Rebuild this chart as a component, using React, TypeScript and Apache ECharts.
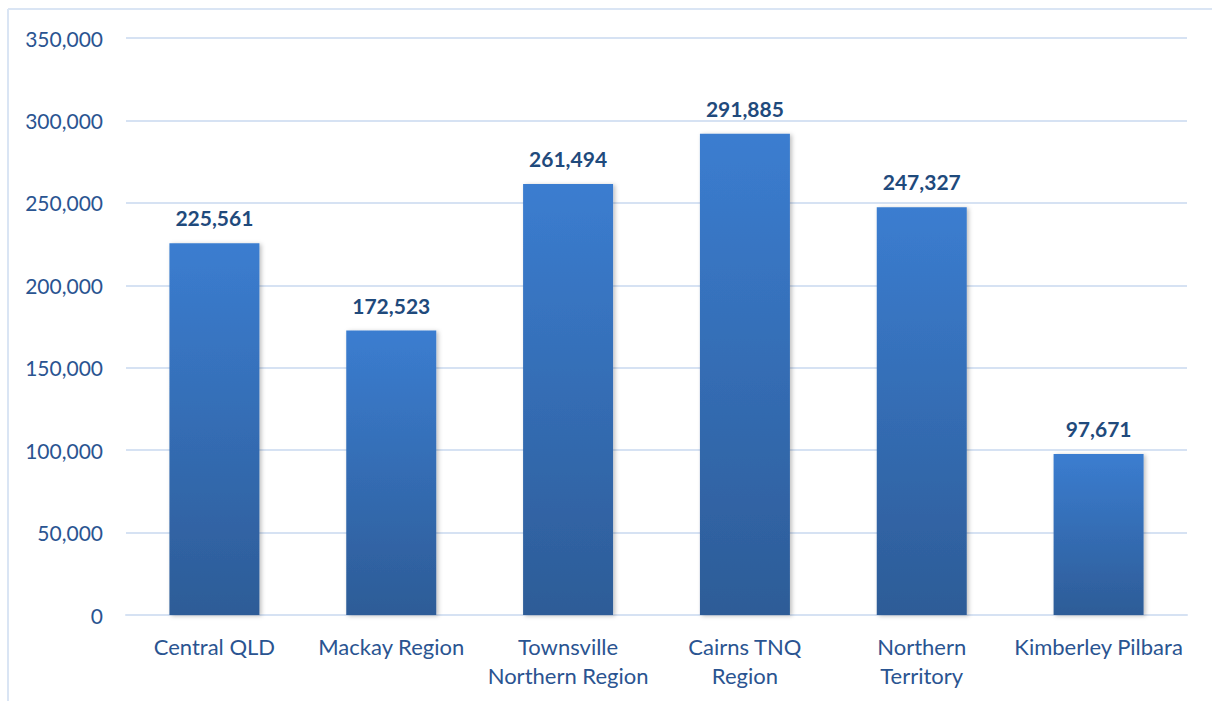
import React, { useEffect, useRef } from "react";
import * as echarts from "echarts";

const categories = [
  "Central QLD",
  "Mackay Region",
  "Townsville\nNorthern Region",
  "Cairns TNQ\nRegion",
  "Northern\nTerritory",
  "Kimberley Pilbara",
];
const values = [225561, 172523, 261494, 291885, 247327, 97671];
const yMin = 0;
const yMax = 350000;
const yInterval = 50000;

const fmt = (v: number) => v.toLocaleString("en-US");

export default function App() {
  const ref = useRef<HTMLDivElement>(null);
  useEffect(() => {
    if (!ref.current) return;
    const chart = echarts.init(ref.current, undefined, { renderer: "svg" });
    const font = "Lato, 'Open Sans', sans-serif";
    chart.setOption({
      animation: false,
      backgroundColor: "#ffffff",
      graphic: [
        { type: "line", shape: { x1: 8, y1: 9, x2: 1212, y2: 9 }, style: { stroke: "#dae5f4", lineWidth: 2 } },
        { type: "line", shape: { x1: 8, y1: 9, x2: 8, y2: 701 }, style: { stroke: "#dae5f4", lineWidth: 2 } },
      ],
      grid: { left: 126, right: 25, top: 38, bottom: 86 },
      xAxis: {
        type: "category",
        data: categories,
        axisLine: { show: true, lineStyle: { color: "#d6e2f3", width: 2 } },
        axisTick: { show: false },
        axisLabel: {
          color: "#2a5491",
          fontFamily: font,
          fontSize: 22,
          lineHeight: 29,
          margin: 17,
          interval: 0,
        },
      },
      yAxis: {
        type: "value",
        min: yMin,
        max: yMax,
        interval: yInterval,
        axisLine: { show: false },
        axisTick: { show: false },
        splitLine: { lineStyle: { color: "#d6e2f3", width: 2 } },
        axisLabel: {
          color: "#2a5491",
          fontFamily: font,
          fontSize: 21,
          margin: 23,
          formatter: (v: number) => fmt(v),
        },
      },
      series: [
        {
          type: "bar",
          data: values,
          barWidth: 90,
          itemStyle: {
            color: new echarts.graphic.LinearGradient(0, 0, 0, 1, [
              { offset: 0, color: "#3b7dd0" },
              { offset: 1, color: "#2d5c97" },
            ]),
            shadowColor: "rgba(0,0,0,0.25)",
            shadowBlur: 4,
            shadowOffsetX: 2,
            shadowOffsetY: 1,
          },
          label: {
            show: true,
            position: "top",
            distance: 15,
            color: "#1f4a7c",
            fontFamily: font,
            fontWeight: "bold",
            fontSize: 21,
            formatter: (p: any) => fmt(p.value),
          },
        },
      ],
    });
    return () => chart.dispose();
  }, []);
  return (
    <div
      ref={ref}
      style={{ position: "fixed", left: 0, top: 0, width: 1212, height: 701 }}
    />
  );
}
